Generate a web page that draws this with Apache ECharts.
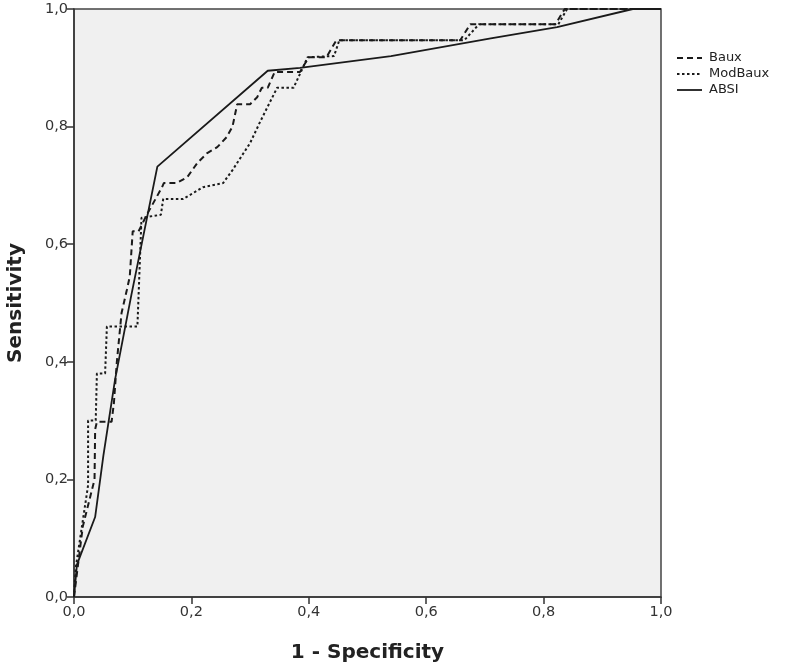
<!DOCTYPE html>
<html>
<head>
<meta charset="utf-8">
<script src="https://cdn.jsdelivr.net/npm/echarts@6/dist/echarts.min.js"></script>
<style>html,body{margin:0;padding:0;background:#fff;}#c{width:787px;height:666px;}</style>
</head>
<body>
<div id="c"></div>
<script>
const xTicks = [0, 0.2, 0.4, 0.6, 0.8, 1.0];
const yTicks = [0, 0.2, 0.4, 0.6, 0.8, 1.0];
const seriesNames = ['Baux', 'ModBaux', 'ABSI'];
const baux = [[0,0],[0.005,0.04],[0.015,0.12],[0.025,0.16],[0.035,0.2],[0.036,0.285],[0.039,0.298],[0.064,0.298],[0.068,0.33],[0.073,0.40],[0.081,0.483],[0.09,0.522],[0.095,0.545],[0.1,0.622],[0.11,0.622],[0.124,0.65],[0.15,0.697],[0.153,0.704],[0.175,0.704],[0.193,0.714],[0.21,0.738],[0.227,0.755],[0.244,0.765],[0.26,0.782],[0.27,0.8],[0.278,0.838],[0.30,0.838],[0.312,0.85],[0.32,0.866],[0.33,0.866],[0.342,0.893],[0.385,0.893],[0.40,0.918],[0.43,0.918],[0.447,0.947],[0.658,0.947],[0.675,0.974],[0.82,0.974],[0.836,1],[1,1]];
const modBaux = [[0,0],[0.003,0.05],[0.012,0.11],[0.018,0.15],[0.024,0.19],[0.024,0.30],[0.037,0.30],[0.039,0.38],[0.053,0.38],[0.056,0.46],[0.108,0.46],[0.115,0.645],[0.148,0.65],[0.152,0.677],[0.186,0.677],[0.22,0.697],[0.254,0.704],[0.27,0.726],[0.30,0.772],[0.317,0.808],[0.346,0.866],[0.374,0.866],[0.398,0.918],[0.443,0.92],[0.452,0.947],[0.665,0.947],[0.69,0.974],[0.825,0.974],[0.84,1.0],[1,1]];
const absi = [[0,0],[0.005,0.055],[0.036,0.136],[0.05,0.24],[0.07,0.37],[0.098,0.515],[0.142,0.732],[0.33,0.895],[0.385,0.9],[0.54,0.92],[0.71,0.95],[0.823,0.969],[0.952,1],[1,1]];

const dashes = {Baux: [6, 4], ModBaux: [2.5, 2.5], ABSI: null};
const widths = {Baux: 2, ModBaux: 2, ABSI: 1.8};
const fmt = v => v.toFixed(1).replace('.', ',');
const chart = echarts.init(document.getElementById('c'));
const font = 'DejaVu Sans';
const lineCol = '#1a1a1a';

const legendGraphics = [];
seriesNames.forEach((n, i) => {
  const y = 58 + i * 16;
  legendGraphics.push({type: 'line', shape: {x1: 677, y1: y, x2: 702, y2: y},
    style: {stroke: lineCol, lineWidth: widths[n], lineDash: dashes[n] || null}});
  legendGraphics.push({type: 'text', x: 709, y: y, style: {text: n, fontFamily: font, fontSize: 13, fill: '#222', textVerticalAlign: 'middle', verticalAlign: 'middle'}});
});

chart.setOption({
  animation: false,
  backgroundColor: '#ffffff',
  grid: {left: 74, right: 126, top: 9, bottom: 69, show: true, containLabel: false, outerBoundsMode: 'none',
         backgroundColor: '#f0f0f0', borderColor: '#444', borderWidth: 1.5},
  graphic: legendGraphics,
  xAxis: {
    type: 'value', min: 0, max: 1, interval: 0.2,
    name: '1 - Specificity', nameLocation: 'middle', nameGap: 46,
    nameTextStyle: {fontFamily: font, fontSize: 20, fontWeight: 'bold', color: '#222'},
    axisLine: {show: true, lineStyle: {color: '#333', width: 1.5}},
    axisTick: {show: true, length: 7, lineStyle: {color: '#333', width: 1.5}},
    axisLabel: {fontFamily: font, fontSize: 14.5, color: '#333', margin: 8, formatter: v => xTicks.includes(+v.toFixed(1)) ? fmt(v) : ''},
    splitLine: {show: false}
  },
  yAxis: {
    type: 'value', min: 0, max: 1, interval: 0.2,
    name: 'Sensitivity', nameLocation: 'middle', nameGap: 48,
    nameTextStyle: {fontFamily: font, fontSize: 20, fontWeight: 'bold', color: '#222'},
    axisLine: {show: true, lineStyle: {color: '#333', width: 1.5}},
    axisTick: {show: true, length: 7, lineStyle: {color: '#333', width: 1.5}},
    axisLabel: {fontFamily: font, fontSize: 14.5, color: '#333', margin: 6, formatter: v => yTicks.includes(+v.toFixed(1)) ? fmt(v) : ''},
    splitLine: {show: false}
  },
  series: [
    {name: seriesNames[0], type: 'line', data: baux, showSymbol: false, symbol: 'none', color: lineCol,
     lineStyle: {color: lineCol, width: widths.Baux, type: dashes.Baux}},
    {name: seriesNames[1], type: 'line', data: modBaux, showSymbol: false, symbol: 'none', color: lineCol,
     lineStyle: {color: lineCol, width: widths.ModBaux, type: dashes.ModBaux}},
    {name: seriesNames[2], type: 'line', data: absi, showSymbol: false, symbol: 'none', color: lineCol,
     lineStyle: {color: lineCol, width: widths.ABSI, type: 'solid'}}
  ]
});
</script>
</body>
</html>
